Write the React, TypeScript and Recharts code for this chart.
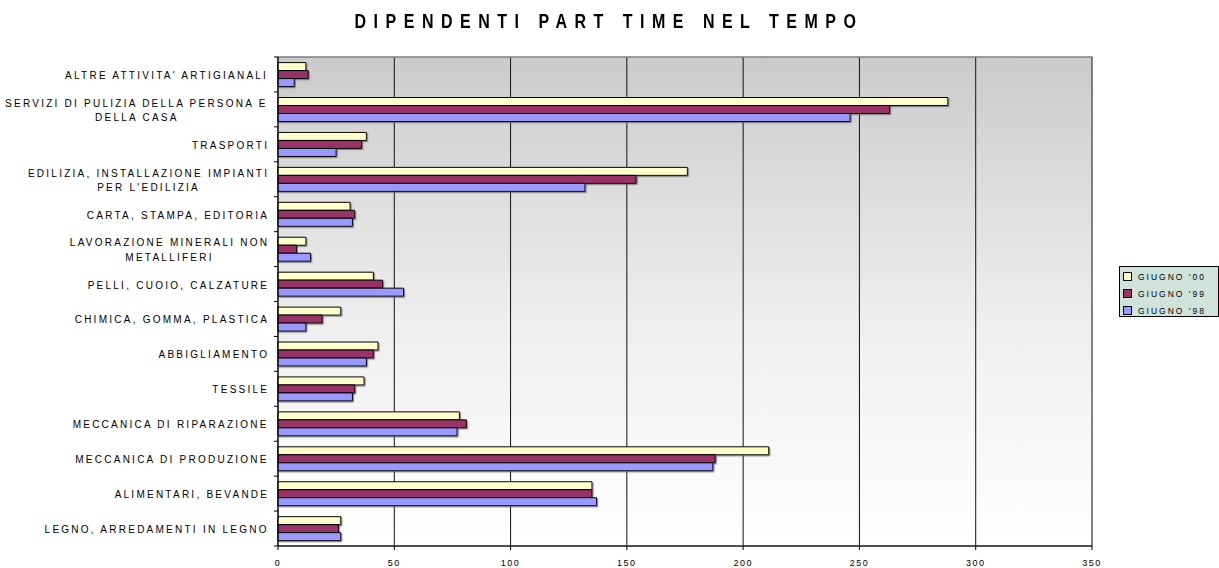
import React from "react";
import {
  BarChart,
  Bar,
  XAxis,
  YAxis,
  CartesianGrid,
  ReferenceArea,
} from "recharts";

const FONT = '"Liberation Sans", Arial, sans-serif';

// categories top to bottom, "\n" marks a line break in the axis label
const categories: string[] = [
  "ALTRE ATTIVITA' ARTIGIANALI",
  "SERVIZI DI PULIZIA DELLA PERSONA E\nDELLA CASA",
  "TRASPORTI",
  "EDILIZIA, INSTALLAZIONE IMPIANTI\nPER L'EDILIZIA",
  "CARTA, STAMPA, EDITORIA",
  "LAVORAZIONE MINERALI NON\nMETALLIFERI",
  "PELLI, CUOIO, CALZATURE",
  "CHIMICA, GOMMA, PLASTICA",
  "ABBIGLIAMENTO",
  "TESSILE",
  "MECCANICA DI RIPARAZIONE",
  "MECCANICA DI PRODUZIONE",
  "ALIMENTARI, BEVANDE",
  "LEGNO, ARREDAMENTI IN LEGNO",
];

const giugno00: number[] = [12, 288, 38, 176, 31, 12, 41, 27, 43, 37, 78, 211, 135, 27];
const giugno99: number[] = [13, 263, 36, 154, 33, 8, 45, 19, 41, 33, 81, 188, 135, 26];
const giugno98: number[] = [7, 246, 25, 132, 32, 14, 54, 12, 38, 32, 77, 187, 137, 27];

const xTicks: number[] = [0, 50, 100, 150, 200, 250, 300, 350];

const seriesNames: string[] = ["GIUGNO '00", "GIUGNO '99", "GIUGNO '98"];
const seriesColors: string[] = ["#FFFFCC", "#993366", "#9999FF"];

const rows = categories.map((name, i) => ({
  name,
  g00: giugno00[i],
  g99: giugno99[i],
  g98: giugno98[i],
}));

const CHART_W = 1219;
const CHART_H = 568;
const MARGIN_TOP = 57;
const X_AXIS_H = 22;
const Y_AXIS_W = 278;
const BAND = (CHART_H - MARGIN_TOP - X_AXIS_H) / categories.length;

const LABEL_SIZE = 10;
const LABEL_SPACING = 2.25;

let measureCtx: CanvasRenderingContext2D | null = null;
function textWidth(s: string, size: number, spacing: number): number {
  if (!measureCtx) measureCtx = document.createElement("canvas").getContext("2d");
  if (!measureCtx) return s.length * size * 0.6;
  measureCtx.font = `${size}px "Liberation Sans"`;
  return measureCtx.measureText(s).width + spacing * (s.length - 1);
}

// multi-line category label, lines centred on each other, block right-aligned
const CategoryTick = (props: any) => {
  const { x, y, payload } = props;
  const lines = String(payload.value).split("\n");
  const widths = lines.map((l) => textWidth(l, LABEL_SIZE, LABEL_SPACING));
  const maxW = Math.max(...widths);
  const cx = x - 11 - maxW / 2;
  const lineH = 14.4;
  const y0 = y + 1 - ((lines.length - 1) * lineH) / 2;
  const last = payload.index === categories.length - 1;
  return (
    <g>
      {lines.map((l, i) => (
        <text
          key={i}
          x={cx - widths[i] / 2}
          y={y0 + i * lineH}
          dominantBaseline="central"
          fontFamily={FONT}
          fontSize={LABEL_SIZE}
          fill="#000"
          style={{ letterSpacing: LABEL_SPACING }}
        >
          {l}
        </text>
      ))}
      <line x1={x - 4} x2={x} y1={y - BAND / 2} y2={y - BAND / 2} stroke="#000" />
      {last && (
        <line x1={x - 4} x2={x} y1={y + BAND / 2} y2={y + BAND / 2} stroke="#000" />
      )}
    </g>
  );
};

const Legend = () => (
  <div
    style={{
      position: "absolute",
      left: 1119,
      top: 266,
      width: 100,
      height: 51,
      boxSizing: "border-box",
      background: "#cfe3da",
      border: "1px solid #000",
      fontFamily: FONT,
      fontSize: 8.5,
      letterSpacing: 2,
      color: "#000",
    }}
  >
    {seriesNames.map((n, i) => (
      <div
        key={n}
        style={{
          position: "absolute",
          left: 3,
          top: 3 + i * 17,
          height: 13,
          display: "flex",
          alignItems: "center",
          whiteSpace: "nowrap",
        }}
      >
        <span
          style={{
            display: "inline-block",
            width: 7,
            height: 7,
            background: seriesColors[i],
            border: "1px solid #000",
            marginRight: 6,
          }}
        />
        {n}
      </div>
    ))}
  </div>
);

export default function App() {
  return (
    <div
      style={{
        position: "absolute",
        left: 0,
        top: 0,
        width: CHART_W,
        height: CHART_H,
        background: "#fff",
      }}
    >
      <div
        style={{
          position: "absolute",
          left: 0,
          width: 1218,
          top: 13,
          textAlign: "center",
          fontFamily: FONT,
          fontWeight: "bold",
          fontSize: 16,
          letterSpacing: 7.5,
          transform: "scaleY(1.25)",
          color: "#000",
        }}
      >
        DIPENDENTI PART TIME NEL TEMPO
      </div>
      <BarChart
        width={CHART_W}
        height={CHART_H}
        data={rows}
        layout="vertical"
        margin={{ top: MARGIN_TOP, right: 127, bottom: 0, left: 0 }}
        barCategoryGap="16%"
        barGap={0}
      >
        <defs>
          <linearGradient id="plotBg" x1="0" y1="0" x2="0" y2="1">
            <stop offset="0%" stopColor="#cbcbcb" />
            <stop offset="55%" stopColor="#efefef" />
            <stop offset="100%" stopColor="#ffffff" />
          </linearGradient>
          <filter id="barShadow" x="-5%" y="-30%" width="110%" height="170%">
            <feDropShadow dx="1.2" dy="1.2" stdDeviation="0.5" floodColor="#666" floodOpacity="0.7" />
          </filter>
        </defs>
        <CartesianGrid
          horizontal={false}
          vertical={true}
          stroke="#111"
          fill="url(#plotBg)"
          fillOpacity={1}
        />
        <ReferenceArea x1={0} x2={350} fill="none" stroke="#808080" strokeWidth={1.5} />
        <XAxis
          type="number"
          domain={[0, 350]}
          ticks={xTicks}
          interval={0}
          height={X_AXIS_H}
          stroke="#000"
          tickSize={4}
          tickMargin={10}
          tick={{ fontSize: 9, fill: "#000", fontFamily: FONT, letterSpacing: 1.5 }}
        />
        <YAxis
          type="category"
          dataKey="name"
          width={Y_AXIS_W}
          interval={0}
          stroke="#000"
          tickLine={false}
          tickSize={0}
          tickMargin={0}
          tick={<CategoryTick />}
        />
        <Bar dataKey="g00" name={seriesNames[0]} fill={seriesColors[0]} stroke="#000" strokeWidth={1} filter="url(#barShadow)" isAnimationActive={false} />
        <Bar dataKey="g99" name={seriesNames[1]} fill={seriesColors[1]} stroke="#000" strokeWidth={1} filter="url(#barShadow)" isAnimationActive={false} />
        <Bar dataKey="g98" name={seriesNames[2]} fill={seriesColors[2]} stroke="#000" strokeWidth={1} filter="url(#barShadow)" isAnimationActive={false} />
      </BarChart>
      <Legend />
    </div>
  );
}
